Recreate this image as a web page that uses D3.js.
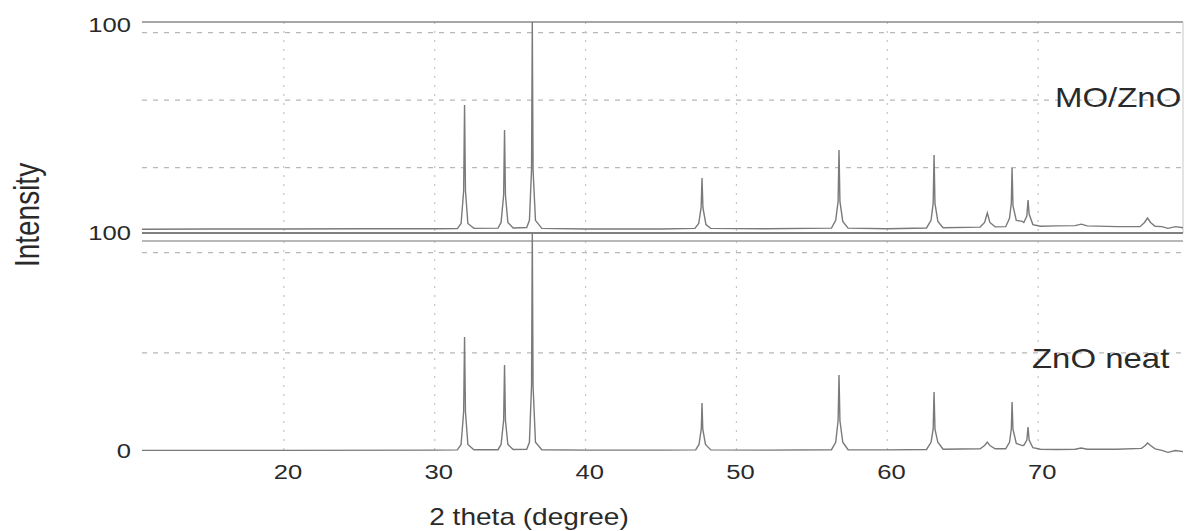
<!DOCTYPE html>
<html>
<head>
<meta charset="utf-8">
<script src="https://cdn.jsdelivr.net/npm/d3@7"></script>
<style>
  body { margin: 0; background: #fff; }
  svg { display: block; }
  text { font-family: "Liberation Sans", Arial, sans-serif; fill: #2a2a2a; }
</style>
</head>
<body>
<svg id="chart" width="1189" height="531"></svg>
<script>
// tick values
var xTicks = [20, 30, 40, 50, 60, 70];
var topYTicks = [100];
var bottomYTicks = [0, 100];
var topGridTicks = [31, 63, 95];
var bottomGridTicks = [45, 91];
var seriesNames = ['MO/ZnO', 'ZnO neat'];

// [2 theta, intensity]
var moZnO = [
  [10.6, 1.8], [15, 1.9], [20, 1.9], [25, 2.0], [30, 2.0], [31.5, 2.1],
  [31.75, 4.5], [31.92, 20], [31.98, 60.7], [32.04, 20], [32.2, 4.5], [32.6, 2.2],
  [34.2, 2.3], [34.4, 5], [34.57, 18], [34.63, 48.8], [34.69, 18], [34.85, 5], [35.2, 2.4],
  [36.1, 2.6], [36.28, 6], [36.42, 30], [36.47, 100], [36.52, 30], [36.68, 6], [37.1, 2.2],
  [40, 1.9], [45, 1.9], [47.25, 2.2], [47.5, 4.5], [47.66, 12], [47.72, 26], [47.78, 12], [47.98, 4], [48.3, 2.2],
  [52, 2.0], [56.3, 2.3], [56.58, 6], [56.74, 15], [56.8, 39.3], [56.86, 15], [57.05, 5.5], [57.4, 2.3],
  [60, 2.0], [62.6, 2.4], [62.9, 6], [63.04, 14], [63.1, 37], [63.16, 14], [63.35, 5.5], [63.7, 2.5],
  [66.15, 2.8], [66.45, 5], [66.63, 9.5], [66.8, 5], [67.15, 2.9],
  [67.85, 3], [68.1, 7], [68.22, 14], [68.27, 30.8], [68.33, 13], [68.55, 6], [68.95, 5.5],
  [69.05, 5], [69.25, 8], [69.33, 15.6], [69.4, 9], [69.65, 4], [70.15, 3.2],
  [71.2, 3.4], [72.45, 3.5], [72.85, 4.2], [73.25, 3.4], [75.2, 3.0], [76.75, 3.0], [77.05, 5], [77.25, 7.1],
  [77.45, 5], [77.75, 3.2], [78.2, 3], [78.6, 2.2], [79.1, 3], [79.6, 2.5]
];

var znoNeat = [
  [10.6, 0.3], [20, 0.3], [30, 0.4], [31.5, 0.5],
  [31.75, 3], [31.92, 18], [31.98, 52.3], [32.04, 18], [32.2, 3], [32.6, 0.6],
  [34.2, 0.6], [34.4, 3], [34.57, 14], [34.63, 39.4], [34.69, 14], [34.85, 3], [35.2, 0.7],
  [36.1, 0.8], [36.28, 4], [36.42, 30], [36.47, 100], [36.52, 30], [36.68, 4], [37.1, 0.6],
  [40, 0.4], [45, 0.4], [47.3, 0.5], [47.52, 3], [47.67, 10], [47.72, 22], [47.77, 10], [47.95, 3], [48.3, 0.5],
  [52, 0.4], [56.3, 0.6], [56.58, 4], [56.74, 14], [56.8, 34.9], [56.86, 14], [57.05, 4], [57.4, 0.6],
  [60, 0.5], [62.6, 0.7], [62.9, 4], [63.04, 10], [63.1, 27], [63.16, 10], [63.35, 4], [63.7, 0.8],
  [66.15, 1], [66.45, 2.5], [66.63, 4.1], [66.8, 2.5], [67.15, 1],
  [67.85, 1], [68.1, 4], [68.22, 10], [68.27, 22.5], [68.33, 10], [68.55, 3.5], [68.95, 2.5],
  [69.05, 2.6], [69.25, 5], [69.33, 11], [69.4, 5], [69.65, 1.5], [70.15, 0.8],
  [71.2, 0.7], [72.45, 0.8], [72.85, 1.4], [73.25, 0.8], [75.2, 0.8], [76.85, 1.2], [77.1, 2.5], [77.25, 3.7],
  [77.45, 2.5], [77.75, 1], [78.2, 0.3], [78.6, -0.6], [79.1, 0.2], [79.6, -0.3]
];

var svg = d3.select('#chart')
  , stretch = 1.22   // the scan is a bit wider than tall
  , gapBelow = 8;

var x = d3.scaleLinear().domain([10.6, 79.6]).range([142, 1183])
  , yTop = d3.scaleLinear().domain([0, 100]).range([233, 22])
  , yBot = d3.scaleLinear().domain([0, 100]).range([451, 233]);

var x0 = x.range()[0], x1 = x.range()[1];

// horizontal dashed grid
var grid = svg.append('g').attr('class', 'grid');

grid.selectAll('line.ht')
  .data(topGridTicks)
  .enter().append('line')
    .attr('class', 'ht')
    .attr('x1', x0).attr('x2', x1)
    .attr('y1', yTop).attr('y2', yTop);

grid.selectAll('line.hb')
  .data(bottomGridTicks)
  .enter().append('line')
    .attr('class', 'hb')
    .attr('x1', x0).attr('x2', x1)
    .attr('y1', yBot).attr('y2', yBot);

grid.selectAll('line.ht, line.hb')
  .style('stroke', '#b8b8b8')
  .style('stroke-width', 1.2)
  .style('stroke-dasharray', '5,6');

// vertical dotted grid
grid.selectAll('line.vt')
  .data(xTicks)
  .enter().append('line')
    .attr('class', 'vt')
    .attr('x1', x).attr('x2', x)
    .attr('y1', yTop(100)).attr('y2', yTop(0));

grid.selectAll('line.vb')
  .data(xTicks)
  .enter().append('line')
    .attr('class', 'vb')
    .attr('x1', x).attr('x2', x)
    .attr('y1', yBot(100) + gapBelow).attr('y2', yBot(0));

grid.selectAll('line.vt, line.vb')
  .style('stroke', '#c4c4c4')
  .style('stroke-width', 1.2)
  .style('stroke-dasharray', '2,7');

// frame lines
var frame = svg.append('g').attr('class', 'frame');
frame.append('line')
  .attr('x1', x0).attr('x2', x1)
  .attr('y1', yTop(100)).attr('y2', yTop(100))
  .style('stroke', '#8a8a8a').style('stroke-width', 1.6);
frame.append('line')
  .attr('x1', x1).attr('x2', x1)
  .attr('y1', yTop(100)).attr('y2', yTop(0))
  .style('stroke', '#c8c8c8').style('stroke-width', 1);
frame.append('line')
  .attr('x1', x0).attr('x2', x1)
  .attr('y1', yTop(0)).attr('y2', yTop(0))
  .style('stroke', '#808080').style('stroke-width', 1.8);
frame.append('line')
  .attr('x1', x0).attr('x2', x1)
  .attr('y1', yBot(100) + gapBelow).attr('y2', yBot(100) + gapBelow)
  .style('stroke', '#a0a0a0').style('stroke-width', 1.4);

// traces
var lineTop = d3.line()
  .x(function(d) { return x(d[0]); })
  .y(function(d) { return yTop(d[1]); });

var lineBot = d3.line()
  .x(function(d) { return x(d[0]); })
  .y(function(d) { return yBot(d[1]); });

svg.append('path')
  .datum(moZnO)
  .attr('d', lineTop)
  .style('fill', 'none')
  .style('stroke', '#7a7a7a')
  .style('stroke-width', 1.4);

svg.append('path')
  .datum(znoNeat)
  .attr('d', lineBot)
  .style('fill', 'none')
  .style('stroke', '#7a7a7a')
  .style('stroke-width', 1.4);

// axes (labels only)
function styleTicks(g, size) {
  g.select('.domain').remove();
  g.selectAll('text')
    .attr('fill', '#2a2a2a')
    .style('font-size', size + 'px')
    .attr('transform', 'scale(' + stretch + ',1)');
}

svg.append('g')
  .attr('transform', 'translate(0,' + yBot(0) + ')')
  .call(d3.axisBottom(x).tickValues(xTicks).tickSize(0).tickPadding(13))
  .call(styleTicks, 21)
  .selectAll('text').attr('x', 3);

svg.append('g')
  .attr('transform', 'translate(' + x0 + ',0)')
  .call(d3.axisLeft(yTop).tickValues(topYTicks).tickSize(0).tickPadding(9))
  .call(styleTicks, 21)
  .selectAll('text').attr('dy', '0.45em');

svg.append('g')
  .attr('transform', 'translate(' + x0 + ',0)')
  .call(d3.axisLeft(yBot).tickValues(bottomYTicks).tickSize(0).tickPadding(9))
  .call(styleTicks, 21);

// titles
svg.append('text')
  .attr('transform', 'translate(529,525) scale(' + stretch + ',1)')
  .attr('text-anchor', 'middle')
  .style('font-size', '23px')
  .text('2 theta (degree)');

svg.append('text')
  .attr('transform', 'translate(27,215) scale(' + stretch + ',1) rotate(-90)')
  .attr('text-anchor', 'middle')
  .attr('dy', '0.35em')
  .style('font-size', '28px')
  .text('Intensity');

svg.append('text')
  .attr('transform', 'translate(1055,107) scale(' + stretch + ',1)')
  .style('font-size', '27px')
  .text(seriesNames[0]);

svg.append('text')
  .attr('transform', 'translate(1032,368) scale(' + stretch + ',1)')
  .style('font-size', '27px')
  .text(seriesNames[1]);
</script>
</body>
</html>
